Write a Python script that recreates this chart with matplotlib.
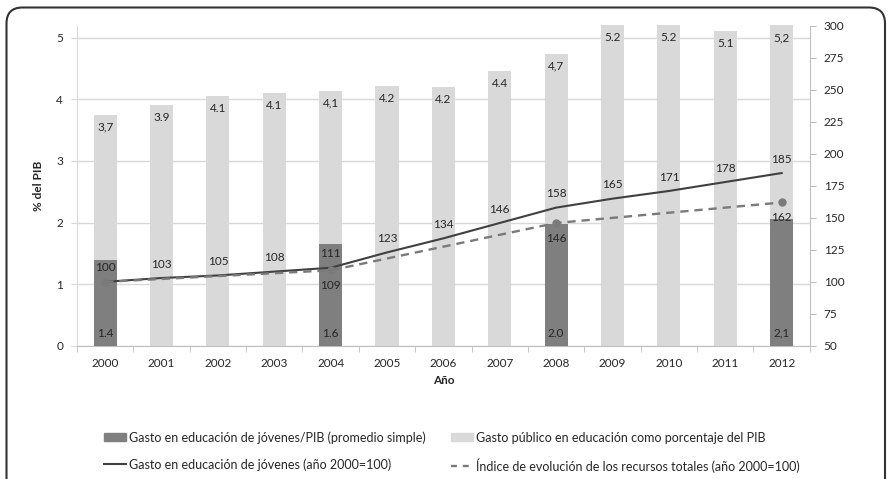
import matplotlib
matplotlib.use("Agg")
import matplotlib.pyplot as plt
from matplotlib.patches import FancyBboxPatch
from matplotlib.lines import Line2D
from matplotlib.patches import Patch
import numpy as np

plt.rcParams['font.family'] = ['Lato', 'DejaVu Sans']

years = list(range(2000, 2013))
gasto_publico = [3.75, 3.9, 4.05, 4.1, 4.14, 4.22, 4.2, 4.46, 4.74, 5.2, 5.2, 5.1, 5.2]
publico_labels = ['3,7', '3.9', '4.1', '4.1', '4,1', '4.2', '4.2', '4.4', '4,7',
                  '5.2', '5.2', '5.1', '5,2']
jov_years = [2000, 2004, 2008, 2012]
gasto_jov_pib = [1.4, 1.65, 1.98, 2.05]
jov_pib_labels = ['1.4', '1.6', '2.0', '2,1']
indice_jov = [100, 103, 105, 108, 111, 123, 134, 146, 158, 165, 171, 178, 185]
indice_total = [100, 109, 146, 162]

light = '#d9d9d9'
dark = '#7f7f7f'
txt = '#262626'
fs = 8.5

fig = plt.figure(figsize=(8.88, 4.79), dpi=100)
ax = fig.add_axes([0.0867, 0.278, 0.912 - 0.0867, 0.946 - 0.278])
ax2 = ax.twinx()

x = np.arange(len(years))
pos = {y: i for i, y in enumerate(years)}
xj = np.array([pos[y] for y in jov_years])
w = 0.41

ax.bar(x, gasto_publico, w, color=light, zorder=2, clip_on=False)
ax.bar(xj, gasto_jov_pib, w, color=dark, zorder=3)
for xi, v, lab in zip(x, gasto_publico, publico_labels):
    ax.annotate(lab, (xi, v), xytext=(0, -9), textcoords='offset points',
                ha='center', va='center', fontsize=fs, color=txt, zorder=5,
                annotation_clip=False)
for xi, lab in zip(xj, jov_pib_labels):
    ax.annotate(lab, (xi, 0), xytext=(0, 9), textcoords='offset points',
                ha='center', va='center', fontsize=fs, color=txt, zorder=5,
                annotation_clip=False)

ax.set_xlim(-0.5, len(years) - 0.5)
ax.set_ylim(0, 5.19)
ax.set_yticks([0, 1, 2, 3, 4, 5])
ax.set_xticks(x)
ax.set_xticklabels([str(y) for y in years])
ax.set_xticks(np.arange(-0.5, len(years)), minor=True)
ax.tick_params(axis='x', which='major', length=0, labelsize=fs, colors=txt, pad=9)
ax.tick_params(axis='x', which='minor', length=4, color='#bfbfbf')
ax.tick_params(axis='y', length=4, color='#d9d9d9', labelsize=fs, colors=txt, pad=6)
ax.grid(axis='y', color='#d9d9d9', linewidth=1, zorder=0)
ax.set_axisbelow(True)
for s in ['top', 'right']:
    ax.spines[s].set_visible(False)
ax.spines['left'].set_color('#d9d9d9')
ax.spines['bottom'].set_color('#bfbfbf')
ax.set_ylabel('% del PIB', fontsize=fs, fontweight='bold', color=txt, labelpad=9)
ax.set_xlabel('Año', fontsize=fs, fontweight='bold', color=txt, labelpad=4)

ax2.plot(x, indice_jov, color='#404040', linewidth=1.5, zorder=4)
ax2.plot(xj, indice_total, color='#7a7a7a', linewidth=1.7, linestyle=(0, (3.5, 2.5)),
         marker='o', markersize=5, zorder=4)
for xi, v in zip(x, indice_jov):
    ax2.annotate(str(v), (xi, v), xytext=(0, 10), textcoords='offset points',
                 ha='center', va='center', fontsize=fs, color=txt)
for xi, v in zip(xj[1:], indice_total[1:]):
    ax2.annotate(str(v), (xi, v), xytext=(0, -11), textcoords='offset points',
                 ha='center', va='center', fontsize=fs, color=txt)
ax2.set_ylim(50, 300)
ax2.set_yticks(np.arange(50, 301, 25))
ax2.tick_params(axis='y', length=4, color='#bfbfbf', labelsize=fs, colors=txt, pad=6)
for s in ['top', 'left', 'bottom']:
    ax2.spines[s].set_visible(False)
ax2.spines['right'].set_color('#bfbfbf')

handles = [Patch(color=dark), Line2D([], [], color='#404040', linewidth=1.5),
           Patch(color=light), Line2D([], [], color='#7a7a7a', linewidth=1.7,
                                      linestyle=(0, (2.5, 2.5)))]
labels = ['Gasto en educación de jóvenes/PIB (promedio simple)',
          'Gasto en educación de jóvenes (año 2000=100)',
          'Gasto público en educación como porcentaje del PIB',
          'Índice de evolución de los recursos totales (año 2000=100)']
fig.legend(handles, labels, loc='upper left', bbox_to_anchor=(0.117, 0.1),
           ncol=2, frameon=False, fontsize=9, borderpad=0, borderaxespad=0,
           handlelength=1.75, handleheight=0.6, handletextpad=0.25,
           columnspacing=2.0, labelspacing=1.15, labelcolor=txt)

frame = FancyBboxPatch((0.065, -0.5), 8.785, 5.215,
                       boxstyle='round,pad=0,rounding_size=0.16',
                       transform=fig.dpi_scale_trans, facecolor='none',
                       edgecolor='#333333', linewidth=1.5, clip_on=False)
fig.patches.append(frame)

fig.savefig('out.png', dpi=100)
